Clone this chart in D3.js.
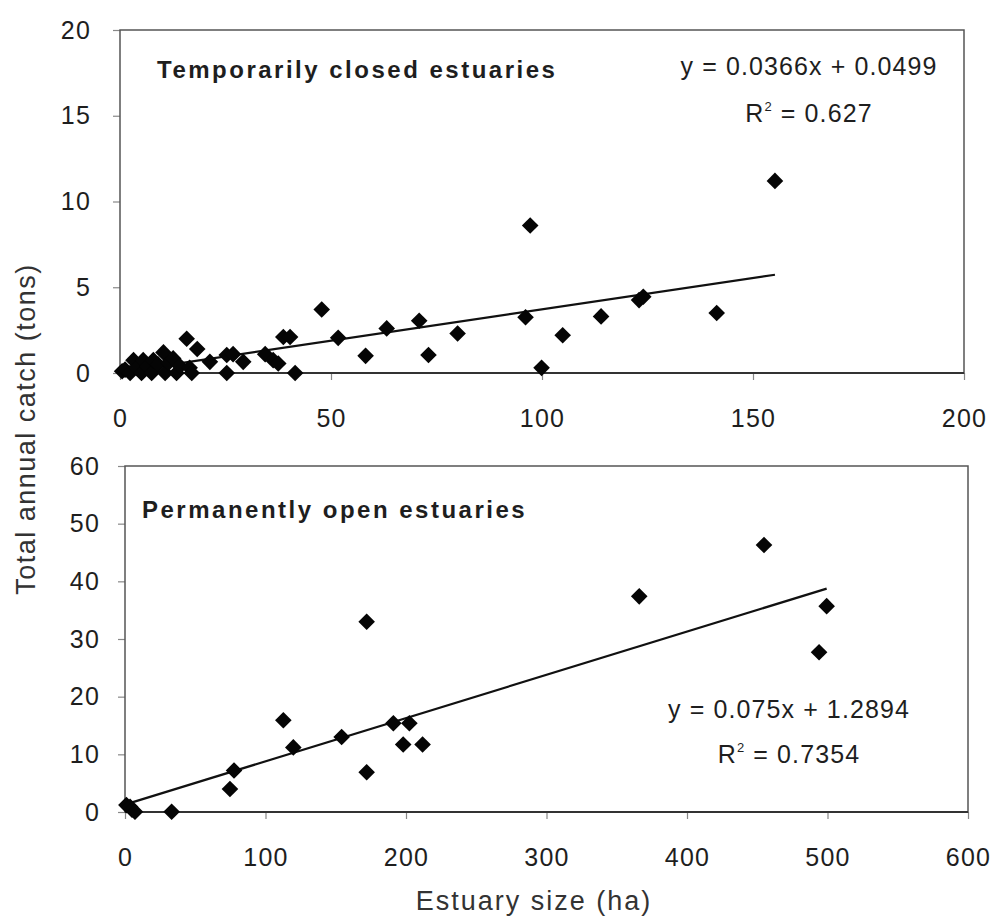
<!DOCTYPE html>
<html>
<head>
<meta charset="utf-8">
<script src="https://cdn.jsdelivr.net/npm/d3@7"></script>
<style>
  body { margin: 0; background: #fff; }
  svg { font-family: "Liberation Sans", Arial, sans-serif; }
</style>
</head>
<body>
<div id="container"></div>
<script>
// Temporarily closed estuaries: size (ha) vs total annual catch (tons)
const closedSize = [0.5, 1.2, 2.4, 3.2, 4, 5.1, 5.5, 6.5, 7.5, 7.9, 9, 10.3, 10.7, 11.5, 12.6, 13.4,
  14.2, 15.8, 16.5, 17, 18.3, 21.3, 25.3, 25.3, 26.8, 29.2, 34.4, 36.3, 37.5, 38.7, 40.3, 41.5,
  47.8, 51.7, 58.2, 63.2, 70.9, 73.1, 80, 96.1, 97.2, 99.9, 104.9, 114, 123, 124, 141.4, 155.2];
const closedCatch = [0.1, 0.2, 0, 0.75, 0.3, 0, 0.75, 0.4, 0, 0.75, 0.5, 1.2, 0, 0.6, 0.85, 0,
  0.4, 2.0, 0.3, 0, 1.4, 0.65, 1.05, 0, 1.1, 0.65, 1.1, 0.75, 0.55, 2.1, 2.1, 0,
  3.7, 2.05, 1.0, 2.6, 3.05, 1.05, 2.3, 3.25, 8.6, 0.3, 2.2, 3.3, 4.25, 4.45, 3.5, 11.2];

// Permanently open estuaries
const openSize = [1, 3.6, 5, 7.1, 33.2, 74.7, 77.6, 112.7, 119.8, 154.2, 172, 172, 191, 198,
  202.4, 211.8, 366, 454.8, 494, 499.4];
const openCatch = [1.2, 0.9, 0.4, 0.05, 0.05, 4.0, 7.2, 15.9, 11.2, 13.0, 33.0, 6.9, 15.4, 11.7,
  15.4, 11.7, 37.4, 46.3, 27.7, 35.7];

// Fitted trend lines as printed on the chart
const closedFit = { slope: 0.0366, intercept: 0.0499, eq: 'y = 0.0366x + 0.0499', r2: '0.627' };
const openFit = { slope: 0.075, intercept: 1.2894, eq: 'y = 0.075x + 1.2894', r2: '0.7354' };

const closedXTicks = [0, 50, 100, 150, 200];
const closedYTicks = [0, 5, 10, 15, 20];
const openXTicks = [0, 100, 200, 300, 400, 500, 600];
const openYTicks = [0, 10, 20, 30, 40, 50, 60];

const W = 995, H = 917;
const ink = '#1e1e1e';

const svg = d3.select('#container').append('svg')
  .attr('width', W).attr('height', H);
svg.append('rect').attr('width', W).attr('height', H).attr('fill', '#fff');

function drawPanel(opt) {
  const { box, xTicks, yTicks, sizes, catches, fit, title, yPad, eqPos } = opt;

  const x = d3.scaleLinear().domain(d3.extent(xTicks)).range([box.left, box.right]);
  const y = d3.scaleLinear().domain(d3.extent(yTicks)).range([box.bottom, box.top]);

  const g = svg.append('g');

  // axes
  const yAxis = g.append('g')
    .attr('transform', `translate(${box.left},0)`)
    .call(d3.axisLeft(y).tickValues(yTicks).tickSize(7).tickSizeOuter(0).tickPadding(yPad));
  const xAxis = g.append('g')
    .attr('transform', `translate(0,${box.bottom})`)
    .call(d3.axisBottom(x).tickValues(xTicks).tickSize(7).tickSizeOuter(0).tickPadding(29));

  [xAxis, yAxis].forEach(a => {
    a.select('.domain').remove();
    a.selectAll('line').attr('stroke', '#888').attr('stroke-width', 1.2);
    a.selectAll('text').attr('font-size', 25).attr('fill', ink)
      .attr('letter-spacing', 1.2)
      .attr('font-family', '"Liberation Sans", Arial, sans-serif');
  });

  // plot frame
  g.append('rect')
    .attr('x', box.left).attr('y', box.top)
    .attr('width', box.right - box.left).attr('height', box.bottom - box.top)
    .attr('fill', 'none').attr('stroke', '#555').attr('stroke-width', 1.5);
  g.append('line')
    .attr('x1', box.left).attr('x2', box.right)
    .attr('y1', box.bottom).attr('y2', box.bottom)
    .attr('stroke', '#333').attr('stroke-width', 2);

  // regression line over the data range
  const [x0, x1] = d3.extent(sizes);
  g.append('path')
    .datum([x0, x1])
    .attr('fill', 'none').attr('stroke', '#111').attr('stroke-width', 2.2)
    .attr('d', d3.line().x(d => x(d)).y(d => y(fit.slope * d + fit.intercept)));

  // points
  const diamond = d3.symbol().type(d3.symbolSquare).size(138);
  g.append('g').selectAll('path')
    .data(sizes.map((s, i) => [s, catches[i]]))
    .join('path')
    .attr('d', diamond)
    .attr('fill', '#050505')
    .attr('transform', d => `translate(${x(d[0])},${y(d[1])}) rotate(45)`);

  // titles and equation
  g.append('text')
    .attr('x', title.x).attr('y', title.y)
    .attr('font-size', 24).attr('font-weight', 'bold').attr('fill', ink)
    .attr('letter-spacing', 2.5)
    .text(title.text);

  g.append('text')
    .attr('x', eqPos.x).attr('y', eqPos.y)
    .attr('text-anchor', 'middle').attr('font-size', 25).attr('fill', ink)
    .attr('letter-spacing', 1.1)
    .text(fit.eq);

  const r2 = g.append('text')
    .attr('x', eqPos.x).attr('y', eqPos.y + eqPos.gap)
    .attr('text-anchor', 'middle').attr('font-size', 25).attr('fill', ink)
    .attr('letter-spacing', 1.1);
  r2.append('tspan').text('R');
  r2.append('tspan').attr('font-size', 13).attr('dy', -11).text('2');
  r2.append('tspan').attr('dy', 11).text(' = ' + fit.r2);
}

drawPanel({
  box: { left: 120, right: 964, top: 30, bottom: 373 },
  xTicks: closedXTicks, yTicks: closedYTicks,
  sizes: closedSize, catches: closedCatch, fit: closedFit,
  title: { x: 157, y: 78, text: 'Temporarily closed estuaries' },
  yPad: 22,
  eqPos: { x: 809, y: 75, gap: 47 }
});

drawPanel({
  box: { left: 125, right: 968, top: 466, bottom: 812 },
  xTicks: openXTicks, yTicks: openYTicks,
  sizes: openSize, catches: openCatch, fit: openFit,
  title: { x: 142, y: 518, text: 'Permanently open estuaries' },
  yPad: 18,
  eqPos: { x: 789, y: 718, gap: 45 }
});

// shared axis titles
svg.append('text')
  .attr('transform', 'translate(35,429) rotate(-90)')
  .attr('text-anchor', 'middle').attr('font-size', 27).attr('fill', '#333')
  .attr('letter-spacing', 1.5)
  .text('Total annual catch (tons)');

svg.append('text')
  .attr('x', 534).attr('y', 910)
  .attr('text-anchor', 'middle').attr('font-size', 27).attr('fill', '#333')
  .attr('letter-spacing', 2)
  .text('Estuary size (ha)');
</script>
</body>
</html>
